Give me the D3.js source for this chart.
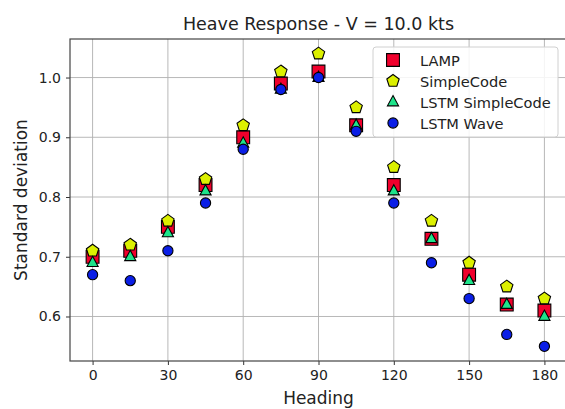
<!DOCTYPE html>
<html>
<head>
<meta charset="utf-8">
<script src="https://cdn.jsdelivr.net/npm/d3@7"></script>
<style>
  body { margin: 0; background: #fff; overflow: hidden; }
  svg { font-family: "DejaVu Sans", sans-serif; }
</style>
</head>
<body>
<div id="chart"></div>
<script>
// data
const headings = [0, 15, 30, 45, 60, 75, 90, 105, 120, 135, 150, 165, 180];
const lamp = [0.70, 0.71, 0.75, 0.82, 0.90, 0.99, 1.01, 0.92, 0.82, 0.73, 0.67, 0.62, 0.61];
const simpleCode = [0.71, 0.72, 0.76, 0.83, 0.92, 1.01, 1.04, 0.95, 0.85, 0.76, 0.69, 0.65, 0.63];
const lstmSimpleCode = [0.69, 0.70, 0.74, 0.81, 0.89, 0.98, 1.00, 0.92, 0.81, 0.73, 0.66, 0.62, 0.60];
const lstmWave = [0.67, 0.66, 0.71, 0.79, 0.88, 0.98, 1.00, 0.91, 0.79, 0.69, 0.63, 0.57, 0.55];
const xTicks = [0, 30, 60, 90, 120, 150, 180];
const yTicks = [0.6, 0.7, 0.8, 0.9, 1.0];

const series = [
    { name: "LAMP", values: lamp, color: "#f0002c", shape: "square" },
    { name: "SimpleCode", values: simpleCode, color: "#dcf000", shape: "pentagon" },
    { name: "LSTM SimpleCode", values: lstmSimpleCode, color: "#1ee38a", shape: "triangle" },
    { name: "LSTM Wave", values: lstmWave, color: "#0a1ee6", shape: "circle" }
];

const width = 565, height = 409;
// the figure is cropped on the right: the axes box runs just past the edge
const margin = { top: 39, right: -2, bottom: 48, left: 70 };

const svg = d3.select("#chart").append("svg")
    .attr("width", width)
    .attr("height", height);

// matplotlib-ish 5% margins
const x = d3.scaleLinear().domain([-9, 189]).range([margin.left, width - margin.right]);
const y = d3.scaleLinear().domain([0.5255, 1.0645]).range([height - margin.bottom, margin.top]);

// grid
const grid = svg.append("g").attr("stroke", "#b0b0b0").attr("stroke-width", 0.9);
grid.selectAll("line.v").data(xTicks).enter().append("line")
    .attr("x1", d => x(d)).attr("x2", d => x(d))
    .attr("y1", margin.top).attr("y2", height - margin.bottom);
grid.selectAll("line.h").data(yTicks).enter().append("line")
    .attr("x1", margin.left).attr("x2", width - margin.right)
    .attr("y1", d => y(d)).attr("y2", d => y(d));

// axes
const xAxis = svg.append("g")
    .attr("transform", `translate(0,${height - margin.bottom})`)
    .call(d3.axisBottom(x).tickValues(xTicks).tickSize(4).tickPadding(5));
const yAxis = svg.append("g")
    .attr("transform", `translate(${margin.left},0)`)
    .call(d3.axisLeft(y).tickValues(yTicks).tickFormat(d3.format(".1f")).tickSize(4).tickPadding(5));
[xAxis, yAxis].forEach(a => {
    a.select(".domain").remove();
    a.selectAll("text").attr("font-size", 14).attr("fill", "#222").style("font-family", "DejaVu Sans");
    a.selectAll("line").attr("stroke", "#333");
});

// frame
svg.append("rect")
    .attr("x", margin.left).attr("y", margin.top)
    .attr("width", width - margin.right - margin.left)
    .attr("height", height - margin.bottom - margin.top)
    .attr("fill", "none").attr("stroke", "#444").attr("stroke-width", 1.2);

// marker shapes
function markerPath(shape) {
    if (shape === "square") return d3.symbol(d3.symbolSquare, 165)();
    if (shape === "circle") return d3.symbol(d3.symbolCircle, 82)();
    if (shape === "triangle") {
        const r = 6.4;
        return `M0,${-r}L${r * 0.87},${r * 0.6}L${-r * 0.87},${r * 0.6}Z`;
    }
    // pentagon
    const r = 6.5;
    const pts = d3.range(5).map(i => {
        const a = -Math.PI / 2 + i * 2 * Math.PI / 5;
        return [r * Math.cos(a), r * Math.sin(a)];
    });
    return "M" + pts.map(p => p.join(",")).join("L") + "Z";
}

series.forEach(s => {
    svg.append("g").selectAll("path")
        .data(headings.map((h, i) => ({ h, v: s.values[i] })))
        .enter().append("path")
        .attr("d", markerPath(s.shape))
        .attr("transform", d => `translate(${x(d.h)},${y(d.v)})`)
        .attr("fill", s.color)
        .attr("stroke", "#000")
        .attr("stroke-width", 1.1);
});

// legend
const legend = svg.append("g").attr("transform", "translate(373,47)");
legend.append("rect")
    .attr("width", 185).attr("height", 90).attr("rx", 3)
    .attr("fill", "rgba(255,255,255,0.85)").attr("stroke", "#d0d0d0");
series.forEach((s, i) => {
    const row = legend.append("g").attr("transform", `translate(20,${13 + i * 21})`);
    row.append("path")
        .attr("d", markerPath(s.shape))
        .attr("fill", s.color).attr("stroke", "#000").attr("stroke-width", 1.1);
    row.append("text")
        .attr("x", 27).attr("y", 5.5)
        .attr("font-size", 14.6).attr("fill", "#222")
        .text(s.name);
});

// title and labels
svg.append("text")
    .attr("x", x(90)).attr("y", 30)
    .attr("text-anchor", "middle").attr("font-size", 17.5).attr("fill", "#222")
    .text("Heave Response - V = 10.0 kts");
svg.append("text")
    .attr("x", x(90)).attr("y", 404)
    .attr("text-anchor", "middle").attr("font-size", 17).attr("fill", "#222")
    .text("Heading");
svg.append("text")
    .attr("transform", `translate(27,${(margin.top + height - margin.bottom) / 2}) rotate(-90)`)
    .attr("text-anchor", "middle").attr("font-size", 17).attr("fill", "#222")
    .text("Standard deviation");
</script>
</body>
</html>
